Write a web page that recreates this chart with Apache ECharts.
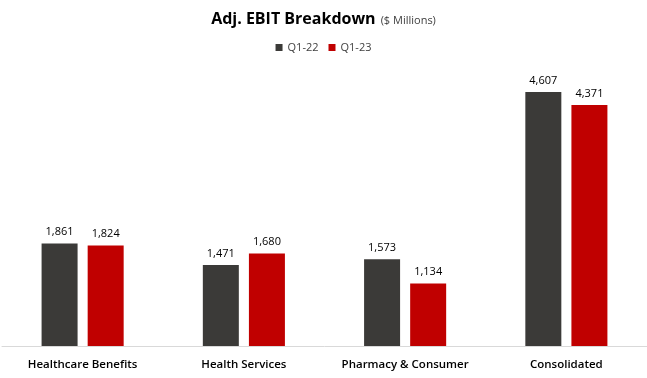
<!DOCTYPE html>
<html><head><meta charset="utf-8">
<script src="https://cdn.jsdelivr.net/npm/echarts@6/dist/echarts.min.js"></script>
<style>html,body{margin:0;padding:0;background:#fff}#c{width:647px;height:378px}</style>
</head><body><div id="c"></div>
<script>
const categories = ["Healthcare Benefits", "Health Services", "Pharmacy & Consumer", "Consolidated"];
const seriesNames = ["Q1-22", "Q1-23"];
const q122 = [1861, 1471, 1573, 4607];
const q123 = [1824, 1680, 1134, 4371];
const colors = ["#3b3a38", "#c00000"];
const fmt = v => v.toLocaleString('en-US');
const chart = echarts.init(document.getElementById('c'), null, {renderer: 'canvas'});
const font = "'Open Sans', 'Noto Sans', sans-serif";
chart.setOption({
  animation: false,
  title: {
    text: '{a|Adj. EBIT Breakdown} {b|($ Millions)}',
    left: 'center', top: 5,
    textStyle: { rich: {
      a: {fontFamily: font, fontSize: 16, fontWeight: 'bold', color: '#000'},
      b: {fontFamily: font, fontSize: 11, fontWeight: 'normal', color: '#404040', padding:[3,0,0,0]}
    }}
  },
  legend: {
    data: seriesNames, top: 37, left: 'center',
    icon: 'rect', itemWidth: 7, itemHeight: 7, itemGap: 10,
    textStyle: {fontFamily: font, fontSize: 11, color: '#404040'}
  },
  grid: {left: 2, right: -2, top: 92, bottom: 32, containLabel: false},
  xAxis: {
    type: 'category', data: categories,
    axisLine: {lineStyle: {color: '#d9d9d9', width: 1}},
    axisTick: {show: false},
    axisLabel: {fontFamily: font, fontSize: 11.5, fontWeight: 600, color: '#000', margin: 13, interval: 0}
  },
  yAxis: {type: 'value', min: 0, max: 4607, show: false, splitLine: {show: false}},
  series: [
    {name: seriesNames[0], type: 'bar', data: q122, barWidth: 36, barGap: '28%', itemStyle: {color: colors[0]},
     label: {show: true, position: 'top', distance: 6, fontFamily: font, fontSize: 11, color: '#000', formatter: p => fmt(p.value)}},
    {name: seriesNames[1], type: 'bar', data: q123, barWidth: 36, itemStyle: {color: colors[1]},
     label: {show: true, position: 'top', distance: 6, fontFamily: font, fontSize: 11, color: '#000', formatter: p => fmt(p.value)}}
  ]
});
</script></body></html>
